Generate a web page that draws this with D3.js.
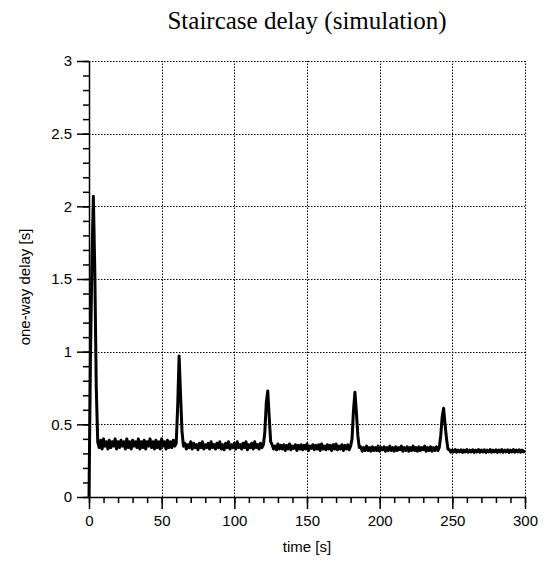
<!DOCTYPE html>
<html>
<head>
<meta charset="utf-8">
<script src="https://cdn.jsdelivr.net/npm/d3@7"></script>
<style>
  body { margin: 0; background: #fff; }
  svg { display: block; }
</style>
</head>
<body>
<div id="chart"><svg></svg></div>
<script>
let width = 547;
let height = 563;

// data: one-way delay sampled every second, t = 0 .. 300 s
let timeStep = 1;
let delay = [
  0, 0.95, 1.62, 2.07, 1.55, 0.75,
  0.38,0.34,0.39,0.33,0.40,0.35,0.38,0.33,0.39,0.34,
  0.38,0.35,0.40,0.33,0.38,0.34,0.39,0.35,0.38,0.33,
  0.40,0.34,0.38,0.33,0.39,0.35,0.38,0.34,0.40,0.33,
  0.38,0.34,0.39,0.33,0.38,0.35,0.40,0.34,0.38,0.33,
  0.39,0.34,0.38,0.33,0.40,0.35,0.38,0.33,0.39,0.34,
  0.38,0.34,0.39,0.35,0.37,
  0.62, 0.97, 0.70, 0.45, 0.35,
  0.37,0.33,0.36,0.34,0.38,0.33,0.37,0.34,0.36,0.325,
  0.37,0.34,0.38,0.33,0.36,0.34,0.37,0.33,0.38,0.34,
  0.36,0.33,0.37,0.34,0.38,0.33,0.36,0.325,0.37,0.34,
  0.38,0.33,0.36,0.34,0.37,0.33,0.38,0.34,0.36,0.33,
  0.37,0.34,0.38,0.325,0.36,0.34,0.37,0.33,0.38,0.34,
  0.36,0.33,0.37,0.34,0.36,
  0.45, 0.65, 0.73, 0.55, 0.38,
  0.36,0.33,0.35,0.325,0.365,0.33,0.355,0.33,0.36,0.32,
  0.355,0.33,0.365,0.325,0.35,0.335,0.36,0.32,0.355,0.33,
  0.36,0.325,0.355,0.33,0.365,0.32,0.35,0.335,0.36,0.325,
  0.355,0.33,0.36,0.32,0.365,0.33,0.35,0.325,0.36,0.33,
  0.355,0.32,0.36,0.33,0.365,0.325,0.35,0.33,0.36,0.32,
  0.355,0.33,0.36,0.325,0.35,
  0.40, 0.60, 0.72, 0.58, 0.42, 0.34,
  0.345,0.315,0.34,0.32,0.35,0.32,0.34,0.315,0.345,0.32,
  0.34,0.32,0.35,0.315,0.34,0.325,0.345,0.315,0.34,0.32,
  0.35,0.32,0.34,0.315,0.345,0.32,0.34,0.325,0.35,0.315,
  0.34,0.32,0.345,0.315,0.34,0.32,0.35,0.32,0.34,0.315,
  0.345,0.32,0.34,0.325,0.35,0.315,0.34,0.32,0.345,0.315,
  0.34,0.32,0.345,0.32,0.34,
  0.42, 0.55, 0.61, 0.50, 0.40, 0.33,
  0.325,0.308,0.322,0.31,0.327,0.308,0.322,0.31,0.325,0.307,
  0.322,0.31,0.326,0.308,0.322,0.31,0.325,0.307,0.322,0.31,
  0.326,0.308,0.323,0.31,0.325,0.307,0.322,0.31,0.326,0.308,
  0.322,0.31,0.325,0.307,0.323,0.31,0.326,0.308,0.322,0.31,
  0.325,0.307,0.322,0.31,0.326,0.308,0.323,0.31,0.325,0.308,
  0.322,0.31,0.32
];

let xTicks = [0, 50, 100, 150, 200, 250, 300];
let yTicks = [0, 0.5, 1, 1.5, 2, 2.5, 3];
let xMinor = d3.range(0, 301, 10);
let yMinor = d3.range(0, 31, 1).map(d => d / 10);
let title = 'Staircase delay (simulation)';
let xLabel = 'time [s]';
let yLabel = 'one-way delay [s]';

let margin = {left: 89, right: 22, top: 61, bottom: 66};

function draw_chart(containerid) {
    let svg = d3.select('#' + containerid)
        .select('svg')
        .attr('width', width)
        .attr('height', height);

    let x = d3.scaleLinear().domain([0, 300]).range([margin.left, width - margin.right]);
    let y = d3.scaleLinear().domain([0, 3]).range([height - margin.bottom, margin.top]);

    // 网格 (dotted)
    let grid = svg.append('g')
        .attr('stroke', '#000')
        .attr('stroke-width', 1)
        .attr('stroke-dasharray', '1.5,1.5');
    grid.selectAll('line.gx')
        .data(xTicks.slice(1))
        .join('line')
        .attr('class', 'gx')
        .attr('x1', d => Math.round(x(d)) + 0.5)
        .attr('x2', d => Math.round(x(d)) + 0.5)
        .attr('y1', y(0))
        .attr('y2', y(3));
    grid.selectAll('line.gy')
        .data(yTicks.slice(1))
        .join('line')
        .attr('class', 'gy')
        .attr('x1', x(0))
        .attr('x2', x(300))
        .attr('y1', d => Math.round(y(d)) + 0.5)
        .attr('y2', d => Math.round(y(d)) + 0.5);

    // minor ticks
    svg.append('g')
        .attr('transform', `translate(0,${y(0)})`)
        .call(d3.axisBottom(x).tickValues(xMinor).tickSize(6).tickSizeOuter(0).tickFormat(''))
        .call(g => g.select('.domain').remove())
        .call(g => g.selectAll('line').attr('stroke-width', 1.5));
    svg.append('g')
        .attr('transform', `translate(${x(0)},0)`)
        .call(d3.axisLeft(y).tickValues(yMinor).tickSize(6).tickSizeOuter(0).tickFormat(''))
        .call(g => g.select('.domain').remove())
        .call(g => g.selectAll('line').attr('stroke-width', 1.5));

    // major axes
    let xAxis = svg.append('g')
        .attr('transform', `translate(0,${y(0)})`)
        .call(d3.axisBottom(x).tickValues(xTicks).tickSize(12).tickSizeOuter(0).tickPadding(6));
    let yAxis = svg.append('g')
        .attr('transform', `translate(${x(0)},0)`)
        .call(d3.axisLeft(y).tickValues(yTicks).tickSize(12).tickSizeOuter(0).tickPadding(5)
            .tickFormat(d => d3.format('')(d)));
    [xAxis, yAxis].forEach(g => {
        g.select('.domain').attr('stroke-width', 1.5);
        g.selectAll('line').attr('stroke-width', 1.5);
        g.selectAll('text')
            .style('font-family', '"Liberation Sans", Arial, sans-serif')
            .style('font-size', '15px')
            .attr('fill', '#000');
    });

    // delay line
    let line = d3.line()
        .x((d, i) => x(i * timeStep))
        .y(d => y(d));
    svg.append('path')
        .datum(delay)
        .attr('fill', 'none')
        .attr('stroke', '#000')
        .attr('stroke-width', 3)
        .attr('stroke-linejoin', 'round')
        .attr('d', line);

    // titles
    svg.append('text')
        .attr('x', (x(0) + x(300)) / 2)
        .attr('y', 29)
        .attr('text-anchor', 'middle')
        .style('font-family', '"Liberation Serif", "Times New Roman", serif')
        .style('font-size', '25px')
        .text(title);
    svg.append('text')
        .attr('x', (x(0) + x(300)) / 2)
        .attr('y', 552)
        .attr('text-anchor', 'middle')
        .style('font-family', '"Liberation Sans", Arial, sans-serif')
        .style('font-size', '15px')
        .text(xLabel);
    svg.append('text')
        .attr('transform', 'translate(30,287) rotate(-90)')
        .attr('text-anchor', 'middle')
        .style('font-family', '"Liberation Sans", Arial, sans-serif')
        .style('font-size', '15px')
        .text(yLabel);
}

draw_chart('chart');
</script>
</body>
</html>
